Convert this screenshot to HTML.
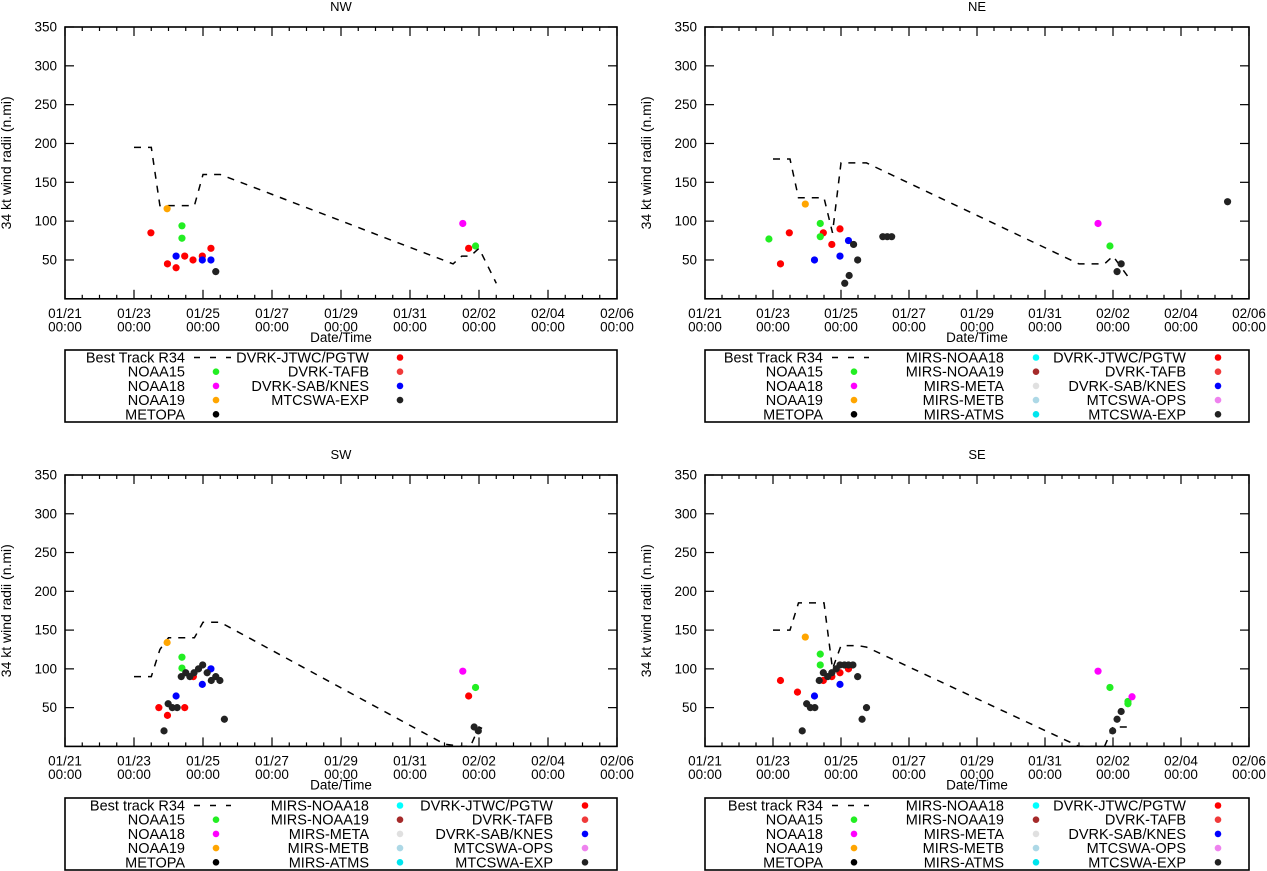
<!DOCTYPE html>
<html><head><meta charset="utf-8"><style>
html,body{margin:0;padding:0;background:#fff;}
svg{display:block;font-family:"Liberation Sans",Arial,sans-serif;}
</style></head><body>
<svg id="chart" width="1267" height="871" viewBox="0 0 1267 871" xmlns="http://www.w3.org/2000/svg"></svg>
<script>
// ---- data (x in days since 01/21 00:00, y in n.mi) ----
const tickDays = [0,2,4,6,8,10,12,14,16];
const tickDates = ["01/21","01/23","01/25","01/27","01/29","01/31","02/02","02/04","02/06"];
const yTicks = [50,100,150,200,250,300,350];

const nwBestDays = [2.0,2.5,2.75,3.5,3.75,4.0,4.5,11.25,11.5,11.75,12.0,12.5];
const nwBestR34  = [195,195,120,120,120,160,160,45,55,55,65,20];
const nwJtwcDays = [2.49,2.97,3.22,3.47,3.71,3.98,4.23,11.7];
const nwJtwcR34  = [85,45,40,55,50,55,65,65];
const nwN15Days = [3.39,3.39,11.9];
const nwN15R34  = [94,78,68];
const nwN18Days = [11.53];
const nwN18R34  = [97];
const nwN19Days = [2.96];
const nwN19R34  = [116];
const nwSabDays = [3.22,3.98,4.23];
const nwSabR34  = [55,50,50];
const nwExpDays = [4.37];
const nwExpR34  = [35];

const neBestDays = [2.0,2.5,2.75,3.25,3.5,3.75,4.0,4.25,4.75,11.0,11.75,12.0,12.5];
const neBestR34  = [180,180,130,130,130,85,175,175,175,45,45,55,25];
const neJtwcDays = [2.22,2.48,3.48,3.73,3.97];
const neJtwcR34  = [45,85,85,70,90];
const neN15Days = [1.88,3.39,3.39,11.91];
const neN15R34  = [77,97,80,68];
const neN18Days = [11.56];
const neN18R34  = [97];
const neN19Days = [2.95];
const neN19R34  = [122];
const neSabDays = [3.22,3.97,4.22];
const neSabR34  = [50,55,75];
const neExpDays = [4.11,4.24,4.37,4.49,5.23,5.36,5.49,12.12,12.24,15.37];
const neExpR34  = [20,30,70,50,80,80,80,35,45,125];

const swBestDays = [2.0,2.5,2.75,3.0,3.75,4.0,4.5,11.0,11.5,11.75,12.0,12.25];
const swBestR34  = [90,90,125,140,140,160,160,3,0,0,25,20];
const swJtwcDays = [2.72,2.97,3.47,3.72,11.7];
const swJtwcR34  = [50,40,50,90,65];
const swN15Days = [3.39,3.39,11.9];
const swN15R34  = [115,101,76];
const swN18Days = [11.53];
const swN18R34  = [97];
const swN19Days = [2.96];
const swN19R34  = [134];
const swSabDays = [3.22,3.98,4.23];
const swSabR34  = [65,80,100];
const swExpDays = [2.87,2.99,3.11,3.25,3.37,3.5,3.62,3.74,3.87,3.99,4.12,4.24,4.37,4.49,4.62,11.86,11.98];
const swExpR34  = [20,55,50,50,90,95,90,95,100,105,95,85,90,85,35,25,20];

const seBestDays = [2.0,2.5,2.75,3.5,3.75,4.0,4.5,4.75,11.0,11.75,12.0,12.5];
const seBestR34  = [150,150,185,185,100,130,130,128,0,0,25,25];
const seJtwcDays = [2.22,2.72,3.48,3.73,3.97,4.22];
const seJtwcR34  = [85,70,85,90,95,100];
const seN15Days = [3.39,3.39,11.91,12.44,12.44];
const seN15R34  = [119,105,76,55,58];
const seN18Days = [11.56,12.56];
const seN18R34  = [97,64];
const seN19Days = [2.95];
const seN19R34  = [141];
const seSabDays = [3.22,3.97];
const seSabR34  = [65,80];
const seExpDays = [2.86,2.99,3.1,3.23,3.36,3.48,3.61,3.73,3.86,3.97,4.1,4.22,4.35,4.49,4.62,4.75,11.99,12.12,12.24];
const seExpR34  = [20,55,50,50,85,95,90,95,100,105,105,105,105,90,35,50,20,35,45];

const NS = "http://www.w3.org/2000/svg";
const svg = document.getElementById('chart');
function mk(tag, attrs, parent){
  const e = document.createElementNS(NS, tag);
  for (const k in attrs) e.setAttribute(k, attrs[k]);
  (parent||svg).appendChild(e);
  return e;
}
function txt(s, x, y, anchor, parent, size){
  const t = mk('text', {x:x, y:y, 'text-anchor':anchor||'middle', 'font-size':size||13.5, fill:'#000'}, parent);
  t.textContent = s;
  return t;
}

const panels = [
  {id:'nw', title:'NW', x0:65, x1:617, y0:27, y1:298.8, ly0:350, ly1:422, best:[nwBestDays,nwBestR34], bestLabel:'Best Track R34',
   series:[['jtwc',nwJtwcDays,nwJtwcR34,'#ff0000'],['noaa15',nwN15Days,nwN15R34,'#22ee22'],['noaa18',nwN18Days,nwN18R34,'#ff00ff'],['noaa19',nwN19Days,nwN19R34,'#ffa500'],['sab',nwSabDays,nwSabR34,'#0000ff'],['mtcswa-exp',nwExpDays,nwExpR34,'#222222']],
   legend:[[['Best Track R34','dash'],['NOAA15','#22ee22'],['NOAA18','#ff00ff'],['NOAA19','#ffa500'],['METOPA','#000']],
           [['DVRK-JTWC/PGTW','#ff0000'],['DVRK-TAFB','#f03a3a'],['DVRK-SAB/KNES','#0000ff'],['MTCSWA-EXP','#222']]],
   lcols:[[185,216],[369,400]]},
  {id:'ne', title:'NE', x0:705, x1:1249, y0:27, y1:298.8, ly0:350, ly1:422, best:[neBestDays,neBestR34],
   series:[['jtwc',neJtwcDays,neJtwcR34,'#ff0000'],['noaa15',neN15Days,neN15R34,'#22ee22'],['noaa18',neN18Days,neN18R34,'#ff00ff'],['noaa19',neN19Days,neN19R34,'#ffa500'],['sab',neSabDays,neSabR34,'#0000ff'],['mtcswa-exp',neExpDays,neExpR34,'#222222']],
   legend:null, bestLabel:'Best Track R34', lcols:[[823,854],[1004,1036],[1186,1218]]},
  {id:'sw', title:'SW', x0:65, x1:617, y0:475, y1:746.4, ly0:798, ly1:870, best:[swBestDays,swBestR34],
   series:[['jtwc',swJtwcDays,swJtwcR34,'#ff0000'],['noaa15',swN15Days,swN15R34,'#22ee22'],['noaa18',swN18Days,swN18R34,'#ff00ff'],['noaa19',swN19Days,swN19R34,'#ffa500'],['sab',swSabDays,swSabR34,'#0000ff'],['mtcswa-exp',swExpDays,swExpR34,'#222222']],
   legend:null, bestLabel:'Best track R34', lcols:[[185,216],[369,400],[553,585]]},
  {id:'se', title:'SE', x0:705, x1:1249, y0:475, y1:746.4, ly0:798, ly1:870, best:[seBestDays,seBestR34],
   series:[['jtwc',seJtwcDays,seJtwcR34,'#ff0000'],['noaa15',seN15Days,seN15R34,'#22ee22'],['noaa18',seN18Days,seN18R34,'#ff00ff'],['noaa19',seN19Days,seN19R34,'#ffa500'],['sab',seSabDays,seSabR34,'#0000ff'],['mtcswa-exp',seExpDays,seExpR34,'#222222']],
   legend:null, bestLabel:'Best track R34', lcols:[[823,854],[1004,1036],[1186,1218]]}
];

function fullLegend(label){
  return [[[label,'dash'],['NOAA15','#22ee22'],['NOAA18','#ff00ff'],['NOAA19','#ffa500'],['METOPA','#000']],
          [['MIRS-NOAA18','#00ffff'],['MIRS-NOAA19','#a52a2a'],['MIRS-META','#e0e0e0'],['MIRS-METB','#add8e6'],['MIRS-ATMS','#00e5ee']],
          [['DVRK-JTWC/PGTW','#ff0000'],['DVRK-TAFB','#f03a3a'],['DVRK-SAB/KNES','#0000ff'],['MTCSWA-OPS','#ee82ee'],['MTCSWA-EXP','#222']]];
}

panels.forEach(p => {
  const g = mk('g', {});
  
  
  const sx = d => p.x0 + (p.x1 - p.x0) * d / 16;
  const sy = v => p.y1 - (p.y1 - p.y0) * v / 350;
  const t = txt(p.title, (p.x0+p.x1)/2, p.y0 - 16, 'middle', g, 13);
  
  
  const cp = mk('clipPath', {id:'clip-'+p.id}, g);
  mk('rect', {x:p.x0, y:p.y0, width:p.x1-p.x0, height:p.y1-p.y0}, cp);
  for (let i=0;i<=32;i++){
    const d = i/2, x = sx(d), major = (i%4===0);
    const len = major ? 9 : 4;
    mk('line', {x1:x, y1:p.y1, x2:x, y2:p.y1-len, stroke:'#000', 'stroke-width':1.2}, g);
    mk('line', {x1:x, y1:p.y0, x2:x, y2:p.y0+len, stroke:'#000', 'stroke-width':1.2}, g);
  }
  tickDays.forEach((d,i) => {
    const l1 = txt(tickDates[i], sx(d), p.y1+19, 'middle', g);
    
    
    txt('00:00', sx(d), p.y1+32.5, 'middle', g);
  });
  yTicks.forEach(v => {
    const y = sy(v);
    mk('line', {x1:p.x0, y1:y, x2:p.x0+9, y2:y, stroke:'#000', 'stroke-width':1.2}, g);
    mk('line', {x1:p.x1, y1:y, x2:p.x1-9, y2:y, stroke:'#000', 'stroke-width':1.2}, g);
    const l = txt(String(v), p.x0-8, y+4.5, 'end', g);
    
    
  });
  const xt = txt('Date/Time', (p.x0+p.x1)/2, p.y1+43, 'middle', g);
  
  
  const yx = p.x0 - 54, yy = (p.y0+p.y1)/2;
  const yt = txt('34 kt wind radii (n.mi)', yx, yy, 'middle', g, 14);
  yt.setAttribute('transform', 'rotate(-90 '+yx+' '+yy+')');
  
  
  const [bd, bv] = p.best;
  const pts = bd.map((d,i) => sx(d).toFixed(1)+','+sy(bv[i]).toFixed(1)).join(' ');
  const bl = mk('polyline', {points:pts, fill:'none', stroke:'#000', 'stroke-width':1.5, 'stroke-dasharray':'7,7', 'clip-path':'url(#clip-'+p.id+')'}, g);
  
  
  p.series.forEach(s => {
    const [name, ds, vs, col] = s;
    ds.forEach((d,i) => {
      const c = mk('circle', {cx:sx(d), cy:sy(vs[i]), r:3.6, fill:col}, g);
      
      
    });
  });
  mk('rect', {x:p.x0, y:p.y0, width:p.x1-p.x0, height:p.y1-p.y0, fill:'none', stroke:'#000', 'stroke-width':1.6}, g);
  const lg = mk('g', {}, g);
  
  
  mk('rect', {x:p.x0, y:p.ly0, width:p.x1-p.x0, height:p.ly1-p.ly0, fill:'none', stroke:'#000', 'stroke-width':1.6}, lg);
  const cols = p.legend || fullLegend(p.bestLabel);
  cols.forEach((col, ci) => {
    col.forEach((item, ri) => {
      const y = p.ly0 + 7.5 + ri*14.2;
      const [tr, sxp] = p.lcols[ci];
      const lt = txt(item[0], tr, y+5, 'end', lg, 14.5);
      
      
      if (item[1] === 'dash') {
        mk('line', {x1:tr+9, y1:y, x2:tr+46, y2:y, stroke:'#000', 'stroke-width':1.5, 'stroke-dasharray':'6,10'}, lg);
      } else {
        mk('circle', {cx:sxp, cy:y, r:3.3, fill:item[1]}, lg);
      }
    });
  });
});
</script>
</body></html>
